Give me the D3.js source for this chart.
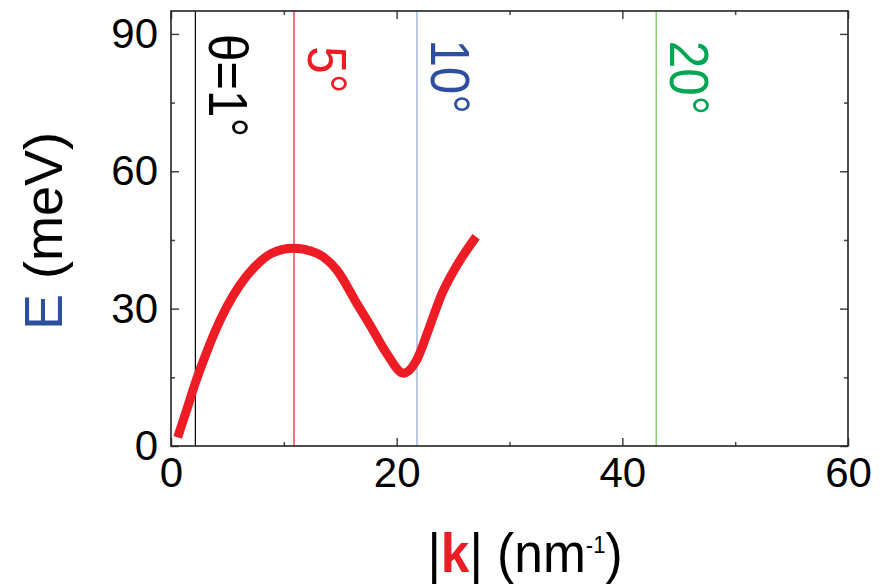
<!DOCTYPE html>
<html>
<head>
<meta charset="utf-8">
<script src="https://cdn.jsdelivr.net/npm/d3@7/dist/d3.min.js"></script>
<style>
  html, body { margin: 0; padding: 0; background: #fff; }
  svg text { font-family: Arial, "Liberation Sans", sans-serif; }
</style>
</head>
<body>
<div id="chart"></div>
<script>
// dispersion curve
var kVals = [0.59, 1.39, 2.19, 3.01, 3.9, 4.94, 6.12, 7.45, 8.93, 10.84, 12.9, 14.7, 16.5, 17.64, 19.12, 20.6, 21.78, 22.81, 24.0, 25.33, 27.04];
var eVals = [1.9, 7.9, 14.0, 19.5, 25.0, 30.4, 35.2, 39.2, 42.1, 43.2, 42.1, 38.4, 31.0, 26.4, 20.2, 15.9, 18.8, 25.3, 33.2, 39.4, 45.7];

// angle markers
var angleK = [2.16, 10.9, 21.8, 43.0];
var angleLabels = ['\u03b8=1\u00b0', '5\u00b0', '10\u00b0', '20\u00b0'];
var angleLabelE = [90.0, 87.3, 88.8, 88.5];
var angleLineColors = ['#000000', '#ee1c25', '#8ea6d8', '#6abf4b'];
var angleTextColors = ['#000000', '#ee1c25', '#2e4fa0', '#00a651'];

// ticks
var xMajor = [0, 20, 40, 60];
var xMinor = [10, 30, 50];
var yMajor = [0, 30, 60, 90];
var yMinor = [15, 45, 75];

var W = 886, H = 585;
var margin = {left: 171, top: 11, right: 38, bottom: 139};
var pw = W - margin.left - margin.right;
var ph = H - margin.top - margin.bottom;

var svg = d3.select('#chart').append('svg')
    .attr('width', W)
    .attr('height', H);

var g = svg.append('g')
    .attr('transform', 'translate(' + margin.left + ',' + margin.top + ')');

var x = d3.scaleLinear().domain([0, 60]).range([0, pw]);
var y = d3.scaleLinear().domain([0, 95]).range([ph, 0]);

// vertical angle lines
g.selectAll('.aline')
    .data(angleK)
    .enter()
    .append('line')
    .attr('class', 'aline')
    .attr('x1', function(d) { return x(d); })
    .attr('x2', function(d) { return x(d); })
    .attr('y1', 0)
    .attr('y2', ph)
    .attr('stroke', function(d, i) { return angleLineColors[i]; })
    .attr('stroke-width', 1.2);

// angle labels, rotated to read downwards
g.selectAll('.alabel')
    .data(angleLabels)
    .enter()
    .append('text')
    .attr('class', 'alabel')
    .attr('transform', function(d, i) {
        return 'translate(' + (x(angleK[i]) + 14) + ',' + y(angleLabelE[i]) + ') rotate(90) scale(0.88,1)';
    })
    .attr('fill', function(d, i) { return angleTextColors[i]; })
    .style('font-size', '56px')
    .text(function(d) { return d; });

// axes, ticks pointing inwards
function addAxis(axis, tr, labels) {
    var a = g.append('g').attr('transform', tr).call(axis);
    a.select('.domain').remove();
    a.selectAll('line').attr('stroke', '#444').attr('stroke-width', 1.5);
    a.selectAll('text').style('font-size', '42px').attr('fill', '#000');
    if (!labels) a.selectAll('text').remove();
    return a;
}
var fmt = d3.format('d');
addAxis(d3.axisBottom(x).tickValues(xMajor).tickSize(-8).tickPadding(11).tickFormat(fmt), 'translate(0,' + ph + ')', true);
addAxis(d3.axisBottom(x).tickValues(xMinor).tickSize(-4), 'translate(0,' + ph + ')', false);
addAxis(d3.axisTop(x).tickValues(xMajor).tickSize(-8), 'translate(0,0)', false);
addAxis(d3.axisTop(x).tickValues(xMinor).tickSize(-4), 'translate(0,0)', false);
addAxis(d3.axisLeft(y).tickValues(yMajor).tickSize(-8).tickPadding(13).tickFormat(fmt), 'translate(0,0)', true);
addAxis(d3.axisLeft(y).tickValues(yMinor).tickSize(-4), 'translate(0,0)', false);
addAxis(d3.axisRight(y).tickValues(yMajor).tickSize(-8), 'translate(' + pw + ',0)', false);
addAxis(d3.axisRight(y).tickValues(yMinor).tickSize(-4), 'translate(' + pw + ',0)', false);

// frame
g.append('rect')
    .attr('width', pw)
    .attr('height', ph)
    .attr('fill', 'none')
    .attr('stroke', '#222')
    .attr('stroke-width', 1.6);

// the red curve
var pts = kVals.map(function(k, i) { return [k, eVals[i]]; });
var line = d3.line()
    .x(function(d) { return x(d[0]); })
    .y(function(d) { return y(d[1]); })
    .curve(d3.curveMonotoneX);
g.append('path')
    .datum(pts)
    .attr('d', line)
    .attr('fill', 'none')
    .attr('stroke', '#ee1c25')
    .attr('stroke-width', 9)
    .attr('stroke-linejoin', 'round');

// y title
var yt = svg.append('text')
    .attr('transform', 'translate(62,231) rotate(-90)')
    .attr('text-anchor', 'middle')
    .style('font-size', '54px');
yt.append('tspan').attr('fill', '#2e4fa0').text('E');
yt.append('tspan').attr('fill', '#000').text(' (meV)');

// x title
var xt = svg.append('text')
    .attr('transform', 'translate(525,572) scale(0.92,1)')
    .attr('text-anchor', 'middle')
    .style('font-size', '56px');
xt.append('tspan').attr('fill', '#000').text('|');
xt.append('tspan').attr('fill', '#ee1c25').style('font-weight', 'bold').text('k');
xt.append('tspan').attr('fill', '#000').text('| (nm');
xt.append('tspan').attr('fill', '#000').attr('dy', -19).style('font-size', '24px').text('-1');
xt.append('tspan').attr('fill', '#000').attr('dy', 19).text(')');
</script>
</body>
</html>
